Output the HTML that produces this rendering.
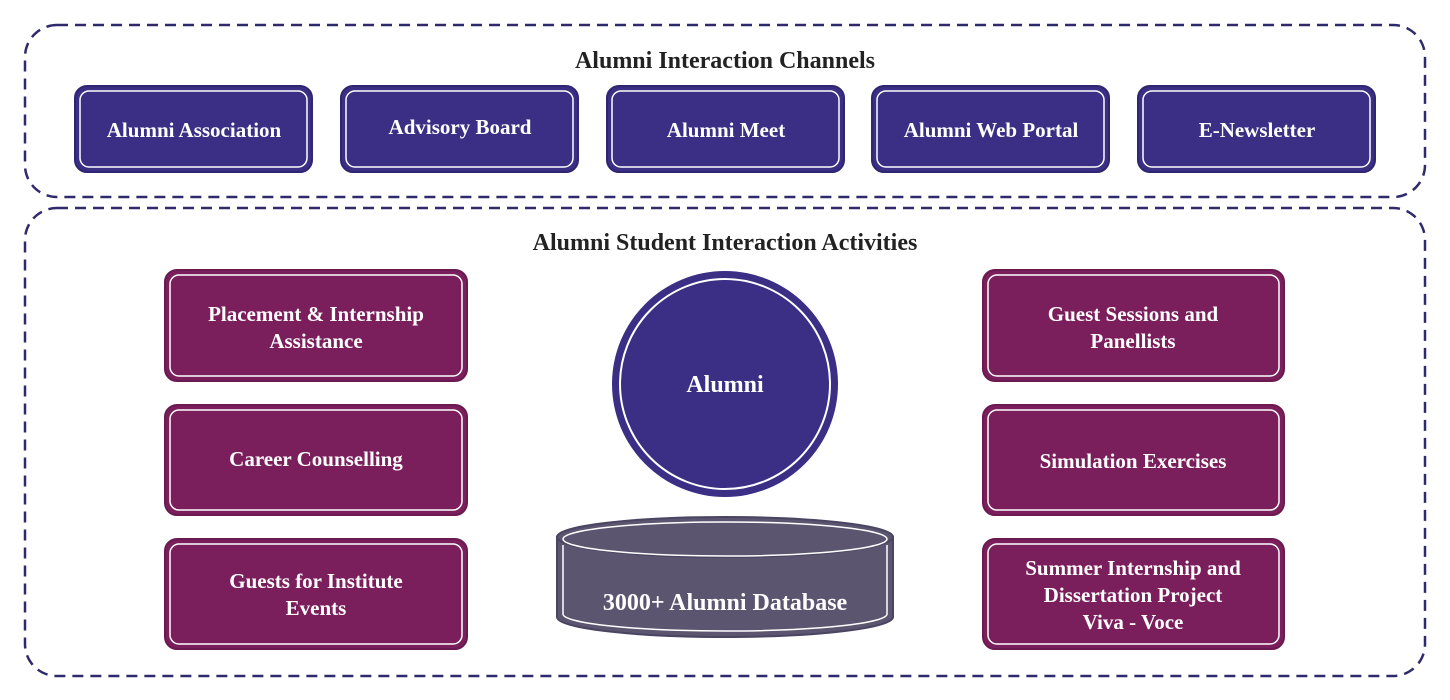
<!DOCTYPE html>
<html><head><meta charset="utf-8"><style>
html,body{margin:0;padding:0;background:#fff;}
svg{display:block;}
text{font-family:"Liberation Serif",serif;font-weight:bold;}
</style></head><body>
<svg width="1450" height="700" viewBox="0 0 1450 700" xmlns="http://www.w3.org/2000/svg">
<rect x="25" y="25" width="1400" height="172" rx="32" fill="none" stroke="#2e2a6b" stroke-width="2.5" stroke-dasharray="11,7"/>
<rect x="25" y="208" width="1400" height="468" rx="32" fill="none" stroke="#2e2a6b" stroke-width="2.5" stroke-dasharray="11,7"/>
<text x="725" y="68" font-size="24" fill="#222" text-anchor="middle">Alumni Interaction Channels</text>
<text x="725" y="250" font-size="24" fill="#222" text-anchor="middle">Alumni Student Interaction Activities</text>
<g fill="#3a2f84" stroke="#2e2670" stroke-width="2">
<rect x="75" y="86" width="237" height="86" rx="12"/>
<rect x="341" y="86" width="237" height="86" rx="12"/>
<rect x="607" y="86" width="237" height="86" rx="12"/>
<rect x="872" y="86" width="237" height="86" rx="12"/>
<rect x="1138" y="86" width="237" height="86" rx="12"/>
</g>
<g fill="none" stroke="#fff" stroke-width="1.5">
<rect x="80" y="91" width="227" height="76" rx="9"/>
<rect x="346" y="91" width="227" height="76" rx="9"/>
<rect x="612" y="91" width="227" height="76" rx="9"/>
<rect x="877" y="91" width="227" height="76" rx="9"/>
<rect x="1143" y="91" width="227" height="76" rx="9"/>
</g>
<g fill="#fff" font-size="21" text-anchor="middle">
<text x="194" y="137">Alumni Association</text>
<text x="460" y="134">Advisory Board</text>
<text x="726" y="137">Alumni Meet</text>
<text x="991" y="137">Alumni Web Portal</text>
<text x="1257" y="137">E-Newsletter</text>
</g>
<g fill="#7a1f5c" stroke="#6a1a50" stroke-width="2">
<rect x="165" y="270" width="302" height="111" rx="12"/>
<rect x="165" y="405" width="302" height="110" rx="12"/>
<rect x="165" y="539" width="302" height="110" rx="12"/>
<rect x="983" y="270" width="301" height="111" rx="12"/>
<rect x="983" y="405" width="301" height="110" rx="12"/>
<rect x="983" y="539" width="301" height="110" rx="12"/>
</g>
<g fill="none" stroke="#fff" stroke-width="1.5">
<rect x="170" y="275" width="292" height="101" rx="9"/>
<rect x="170" y="410" width="292" height="100" rx="9"/>
<rect x="170" y="544" width="292" height="100" rx="9"/>
<rect x="988" y="275" width="291" height="101" rx="9"/>
<rect x="988" y="410" width="291" height="100" rx="9"/>
<rect x="988" y="544" width="291" height="100" rx="9"/>
</g>
<g fill="#fff" font-size="21" text-anchor="middle">
<text x="316" y="321">Placement &amp; Internship</text>
<text x="316" y="348">Assistance</text>
<text x="316" y="466">Career Counselling</text>
<text x="316" y="588">Guests for Institute</text>
<text x="316" y="615">Events</text>
<text x="1133" y="321">Guest Sessions and</text>
<text x="1133" y="348">Panellists</text>
<text x="1133" y="468">Simulation Exercises</text>
<text x="1133" y="575">Summer Internship and</text>
<text x="1133" y="602">Dissertation Project</text>
<text x="1133" y="629">Viva - Voce</text>
</g>
<circle cx="725" cy="384" r="113" fill="#3a2f84"/>
<circle cx="725" cy="384" r="105" fill="none" stroke="#fff" stroke-width="2"/>
<text x="725" y="392" font-size="24" fill="#fff" text-anchor="middle">Alumni</text>
<path d="M557 537 L557 617 A168 20 0 0 0 893 617 L893 537 Z" fill="#5b5570" stroke="#4a4560" stroke-width="2"/>
<path d="M563 545 L563 614 A162 17 0 0 0 887 614 L887 545" fill="none" stroke="#fff" stroke-width="1.5"/>
<ellipse cx="725" cy="537" rx="168" ry="20" fill="#5b5570" stroke="#4a4560" stroke-width="2"/>
<ellipse cx="725" cy="539" rx="162" ry="17" fill="none" stroke="#fff" stroke-width="1.5"/>
<text x="725" y="610" font-size="24" fill="#fff" text-anchor="middle">3000+ Alumni Database</text>
</svg>
</body></html>
